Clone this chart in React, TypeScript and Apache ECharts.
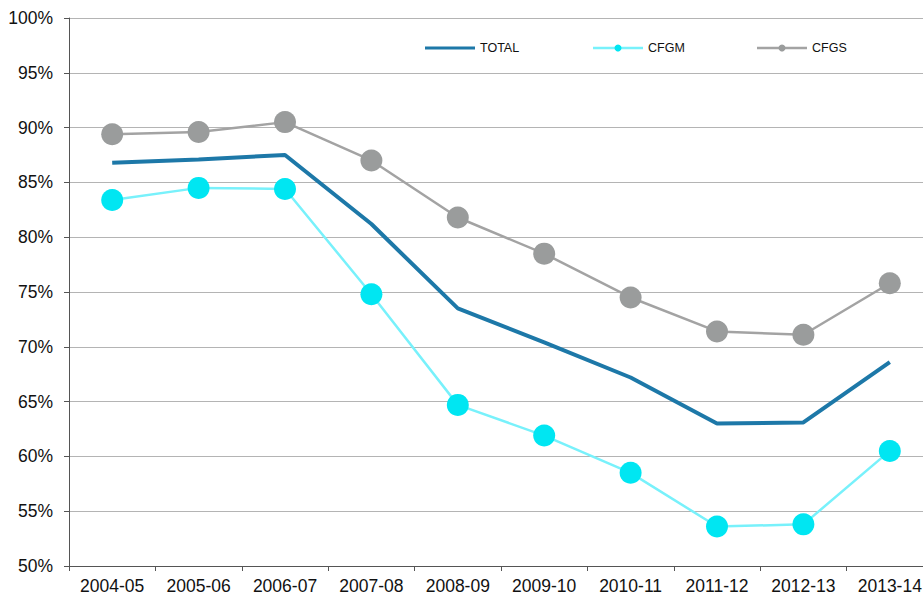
import React, { useEffect, useRef } from "react";
import * as echarts from "echarts";

const categories = ["2004-05", "2005-06", "2006-07", "2007-08", "2008-09", "2009-10", "2010-11", "2011-12", "2012-13", "2013-14"];
const totalValues = [86.8, 87.1, 87.5, 81.2, 73.5, 70.4, 67.2, 63.0, 63.1, 68.6];
const cfgmValues = [83.4, 84.5, 84.4, 74.8, 64.7, 61.9, 58.5, 53.6, 53.8, 60.5];
const cfgsValues = [89.4, 89.6, 90.5, 87.0, 81.8, 78.5, 74.5, 71.4, 71.1, 75.8];
const legendNames = ["TOTAL", "CFGM", "CFGS"];

const totalColor = "#1d78a8";
const cfgmLine = "#78f1fb";
const cfgmDot = "#00e6f2";
const cfgsLine = "#a3a3a3";
const cfgsDot = "#9a9c9c";

export default function App() {
  const ref = useRef<HTMLDivElement>(null);
  useEffect(() => {
    if (!ref.current) return;
    const chart = echarts.init(ref.current, null, { renderer: "svg" });
    const font = "'Liberation Sans', Arial, sans-serif";
    const ly = 48;
    const legendItem = (x0: number, name: string, lineColor: string, lw: number, dot: string | null) => {
      const children: any[] = [
        { type: "line", shape: { x1: x0, y1: ly, x2: x0 + 50, y2: ly }, style: { stroke: lineColor, lineWidth: lw } },
        {
          type: "text",
          x: x0 + 55,
          y: ly,
          style: { text: name, fill: "#111", font: `12.5px ${font}`, verticalAlign: "middle" },
        },
      ];
      if (dot) children.push({ type: "circle", shape: { cx: x0 + 25, cy: ly, r: 3.5 }, style: { fill: dot } });
      return { type: "group", children };
    };
    chart.setOption({
      animation: false,
      backgroundColor: "#ffffff",
      textStyle: { fontFamily: font },
      graphic: [
        legendItem(425, legendNames[0], totalColor, 3, null),
        legendItem(593, legendNames[1], cfgmLine, 2.5, cfgmDot),
        legendItem(757, legendNames[2], cfgsLine, 2.5, cfgsDot),
      ],
      grid: { left: 69, top: 18, right: 3, bottom: 29, containLabel: false },
      xAxis: {
        type: "category",
        data: categories,
        boundaryGap: true,
        axisLine: { lineStyle: { color: "#555", width: 1 } },
        axisTick: { show: true, length: 5, lineStyle: { color: "#555" } },
        axisLabel: { color: "#111", fontSize: 17.5, fontFamily: font, margin: 11 },
      },
      yAxis: {
        type: "value",
        min: 50,
        max: 100,
        interval: 5,
        axisLine: { show: true, lineStyle: { color: "#555", width: 1 } },
        axisTick: { show: true, length: 5, lineStyle: { color: "#555" } },
        axisLabel: { formatter: "{value}%", color: "#111", fontSize: 17.5, fontFamily: font, margin: 16 },
        splitLine: { lineStyle: { color: "#b4b4b4", width: 1 } },
      },
      series: [
        {
          name: "TOTAL",
          type: "line",
          data: totalValues,
          showSymbol: false,
          symbol: "none",
          lineStyle: { color: totalColor, width: 4 },
          itemStyle: { color: totalColor },
          z: 3,
        },
        {
          name: "CFGM",
          type: "line",
          data: cfgmValues,
          symbol: "circle",
          symbolSize: 22,
          lineStyle: { color: cfgmLine, width: 2.5 },
          itemStyle: { color: cfgmDot },
          z: 2,
        },
        {
          name: "CFGS",
          type: "line",
          data: cfgsValues,
          symbol: "circle",
          symbolSize: 22,
          lineStyle: { color: cfgsLine, width: 2.5 },
          itemStyle: { color: cfgsDot },
          z: 2,
        },
      ],
    });
    return () => chart.dispose();
  }, []);
  return (
    <div style={{ width: 923, height: 595, position: "absolute", left: 0, top: 0, overflow: "hidden" }}>
      <div ref={ref} style={{ width: 936, height: 595 }} />
    </div>
  );
}
